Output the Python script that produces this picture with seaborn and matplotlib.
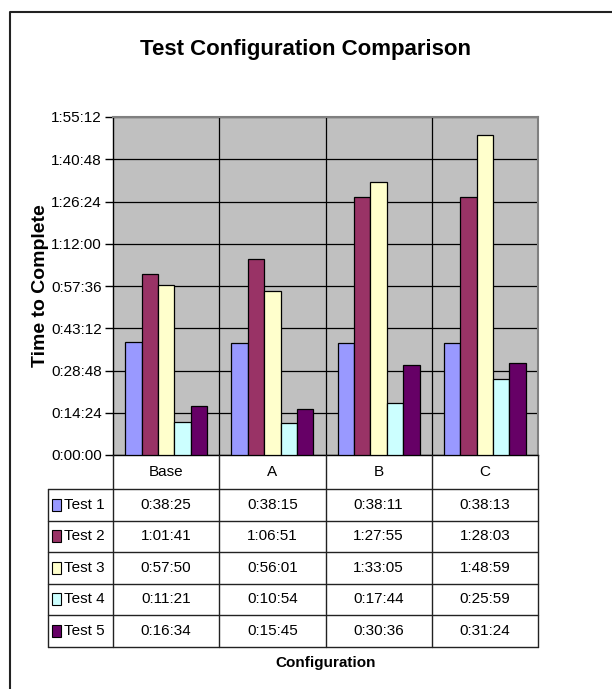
import numpy as np
import pandas as pd
import matplotlib
matplotlib.use("Agg")
import matplotlib.pyplot as plt
import matplotlib.transforms as mtransforms
from matplotlib.lines import Line2D
from matplotlib.patches import Rectangle
from matplotlib.ticker import FuncFormatter
import seaborn as sns

# --- data -----------------------------------------------------------------
configurations = ["Base", "A", "B", "C"]
tests = ["Test 1", "Test 2", "Test 3", "Test 4", "Test 5"]
test1 = ["0:38:25", "0:38:15", "0:38:11", "0:38:13"]
test2 = ["1:01:41", "1:06:51", "1:27:55", "1:28:03"]
test3 = ["0:57:50", "0:56:01", "1:33:05", "1:48:59"]
test4 = ["0:11:21", "0:10:54", "0:17:44", "0:25:59"]
test5 = ["0:16:34", "0:15:45", "0:30:36", "0:31:24"]
colors = ["#9999FF", "#993366", "#FFFFCC", "#CCFFFF", "#660066"]
y_max = "1:55:12"
y_step = "0:14:24"

series = [test1, test2, test3, test4, test5]


def to_seconds(s):
    h, m, sec = (int(p) for p in s.split(":"))
    return h * 3600 + m * 60 + sec


def fmt_hms(v, _pos=None):
    v = int(round(v))
    return f"{v // 3600}:{(v % 3600) // 60:02d}:{v % 60:02d}"


rows = []
for name, vals in zip(tests, series):
    for cfg, v in zip(configurations, vals):
        rows.append({"Configuration": cfg, "Test": name, "Seconds": to_seconds(v)})
df = pd.DataFrame(rows)

# --- figure ---------------------------------------------------------------
sns.set_style("white")
plt.rcParams["font.family"] = ["Liberation Sans", "DejaVu Sans"]
for key in ("text.color", "axes.labelcolor", "xtick.color", "ytick.color"):
    plt.rcParams[key] = "black"

FS = 11
W, H = 612, 689
fig = plt.figure(figsize=(W / 100, H / 100), dpi=100)


def fx(x):
    return x / W


def fy(y):
    return 1 - y / H


left, right, top, bottom = 113, 538, 117, 455
ax = fig.add_axes([fx(left), fy(bottom), fx(right - left), (bottom - top) / H])
ax.set_facecolor("#C0C0C0")

sns.barplot(data=df, x="Configuration", y="Seconds", hue="Test",
            order=configurations, hue_order=tests, palette=colors,
            width=0.77, saturation=1, edgecolor="black", linewidth=0.9,
            legend=False, ax=ax, zorder=3)

ymax = to_seconds(y_max)
ax.set_ylim(0, ymax)
ax.set_xlim(-0.5, len(configurations) - 0.5)
ax.set_yticks(np.arange(0, ymax + 1, to_seconds(y_step)))
ax.yaxis.set_major_formatter(FuncFormatter(fmt_hms))
ax.set_xticks([])
ax.set_xticks(np.arange(0.5, len(configurations) - 0.5, 1), minor=True)
ax.tick_params(axis="x", which="both", length=0, labelbottom=False)
ax.tick_params(axis="y", which="major", length=6, width=1, color="black",
               direction="out", labelsize=FS, pad=2, left=True)
ax.grid(axis="y", which="major", color="black", linewidth=0.9, zorder=1)
ax.grid(axis="x", which="minor", color="black", linewidth=0.9, zorder=1)
ax.set_axisbelow(True)
ax.set_xlabel("")
ax.set_ylabel("Time to Complete", fontsize=14, fontweight="bold")
ax.yaxis.set_label_coords((49 - left) / (right - left), 0.5)

for side in ("left", "bottom"):
    ax.spines[side].set_color("black")
    ax.spines[side].set_linewidth(1)
for side in ("top", "right"):
    ax.spines[side].set_color("#808080")
    ax.spines[side].set_linewidth(1.5)

# --- title and outer frame ------------------------------------------------
fig.text(fx(305), fy(50), "Test Configuration Comparison", ha="center",
         va="center", fontsize=16, fontweight="bold")
fig.add_artist(Line2D([fx(10), fx(10), fx(W)], [0, fy(12), fy(12)],
                      transform=fig.transFigure, color="#222222", linewidth=1.5))

# --- data table under the plot --------------------------------------------
blend = mtransforms.blended_transform_factory(ax.transData, fig.transFigure)
row_h = 31.5
header_bottom = 489
row_edges = [header_bottom + i * row_h for i in range(len(tests) + 1)]
table_bottom = row_edges[-1]
line_kw = dict(color="#222222", linewidth=1)

# column separators (category boundaries)
for b in np.arange(-0.5, len(configurations), 1):
    fig.add_artist(Line2D([b, b], [fy(bottom), fy(table_bottom)],
                          transform=blend, **line_kw))
# row separators, including the legend column
for y in row_edges:
    fig.add_artist(Line2D([fx(48), fx(right)], [fy(y), fy(y)],
                          transform=fig.transFigure, **line_kw))
fig.add_artist(Line2D([fx(48), fx(48)], [fy(header_bottom), fy(table_bottom)],
                      transform=fig.transFigure, **line_kw))

# category header row
for i, cfg in enumerate(configurations):
    fig.text(i, fy((bottom + header_bottom) / 2), cfg, transform=blend,
             ha="center", va="center", fontsize=FS)

# value rows with legend keys
for r, (name, vals, col) in enumerate(zip(tests, series, colors)):
    yc = (row_edges[r] + row_edges[r + 1]) / 2
    fig.add_artist(Rectangle((fx(52), fy(yc + 6)), fx(9), 12 / H,
                             transform=fig.transFigure, facecolor=col,
                             edgecolor="black", linewidth=0.8))
    fig.text(fx(64), fy(yc), name, ha="left", va="center", fontsize=FS)
    for i, v in enumerate(vals):
        fig.text(i, fy(yc), v, transform=blend, ha="center", va="center",
                 fontsize=FS)

fig.text(fx((left + right) / 2), fy(663), "Configuration", ha="center",
         va="center", fontsize=11, fontweight="bold")

fig.savefig("out.png", dpi=100)
